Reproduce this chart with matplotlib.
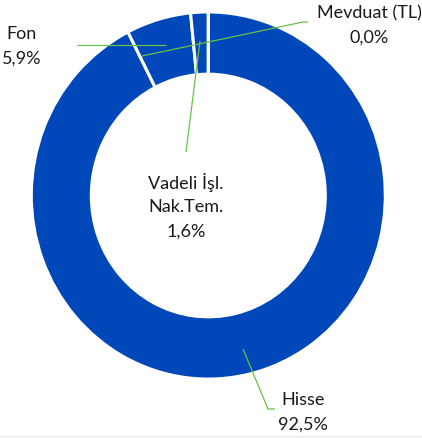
import matplotlib
matplotlib.use('Agg')
import matplotlib.pyplot as plt
from matplotlib.transforms import Affine2D

# portfolio split, clockwise from 12 o'clock
names = ['Hisse', 'Fon', 'Vadeli İşl.\nNak.Tem.', 'Mevduat (TL)']
shares = [92.5, 5.9, 1.6, 0.0]

BLUE = '#0047BA'
GREEN = '#6CBF4A'
W, H = 422, 439

# label block centres and leader lines, in pixels (y down)
label_pos = [(303, 400), (22, 34), (186, 183), (369, 13)]
leaders = [
    [(243, 350), (268, 410), (275, 410)],
    [(77, 46), (166, 46)],
    [(186, 153), (200, 42)],
    [(308, 23), (303, 23), (142, 57)],
]


def fmt(v):
    return '{:.1f}%'.format(v).replace('.', ',')


def main():
    plt.rcParams['font.family'] = ['Lato', 'DejaVu Sans']

    fig = plt.figure(figsize=(W / 100, H / 100), dpi=100)
    ax = fig.add_axes([0, 0, 1, 1])

    cx, cy = 208.3, 196.5
    r = 177
    wedges, _ = ax.pie(shares, radius=r, center=(cx, cy),
                       startangle=270, counterclock=True,
                       explode=[4 / r] * len(shares),
                       colors=[BLUE] * len(shares),
                       wedgeprops=dict(width=60, edgecolor='white', linewidth=2.2),
                       normalize=True)
    # picture is a little taller than wide
    stretch = Affine2D().translate(-cx, -cy).scale(1, 1.037).translate(cx, cy)
    for w in wedges:
        w.set_transform(stretch + ax.transData)

    for pts in leaders:
        xs = [p[0] for p in pts]
        ys = [p[1] for p in pts]
        ax.plot(xs, ys, color=GREEN, lw=0.9, solid_capstyle='butt', zorder=5)

    for name, v, (x, y) in zip(names, shares, label_pos):
        lines = name.split('\n') + [fmt(v)]
        for i, line in enumerate(lines):
            ax.text(x, y + i * 24.5, line, ha='center', va='center',
                    fontsize=13, color='#1a1a1a', zorder=6)

    ax.plot([0, W], [H - 1.5, H - 1.5], color='#e8e8e8', lw=1)

    ax.set_xlim(0, W)
    ax.set_ylim(H, 0)
    ax.set_aspect('auto')
    ax.axis('off')

    fig.savefig('out.png', dpi=100, facecolor='white')


if __name__ == '__main__':
    main()
